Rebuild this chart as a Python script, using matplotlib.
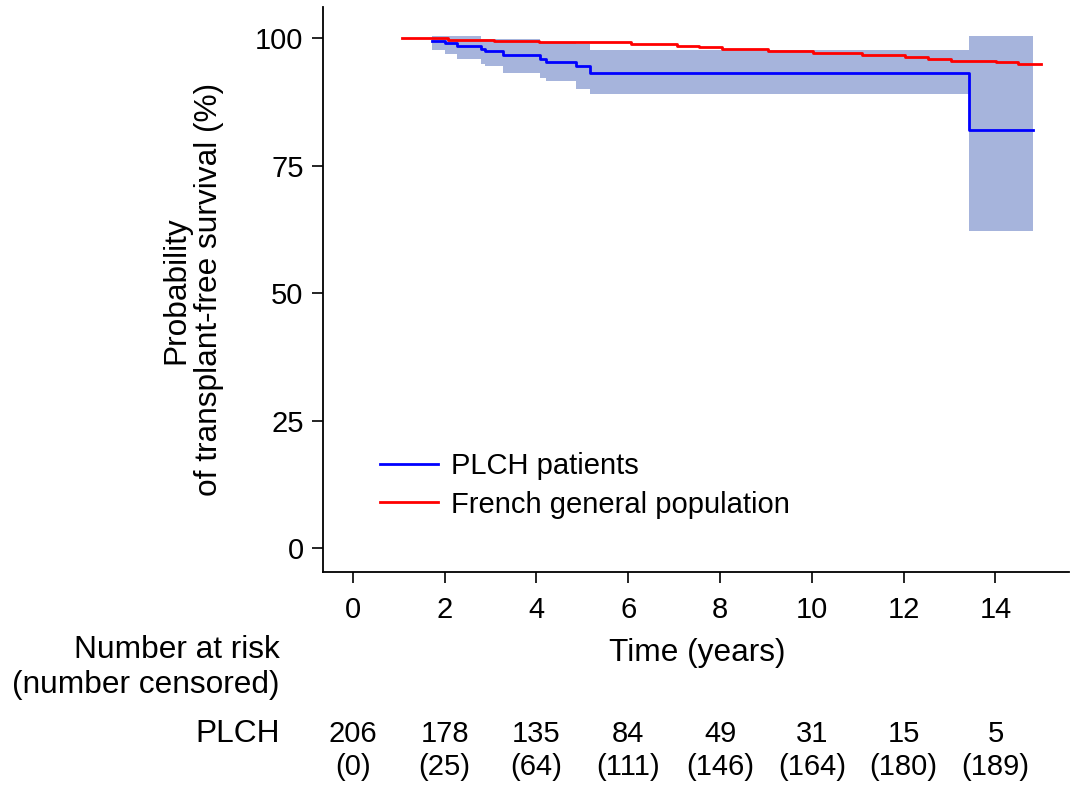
import matplotlib
matplotlib.use("Agg")
import matplotlib.pyplot as plt
import matplotlib.transforms as mtransforms
import numpy as np

plt.rcParams["font.family"] = ["Liberation Sans", "DejaVu Sans"]

# ---- data -------------------------------------------------------------------
# PLCH patients: Kaplan-Meier step times (years), estimate and 95% CI (%)
plch_t = [1.72, 2.00, 2.26, 2.80, 2.88, 3.27, 4.07, 4.20, 4.87, 5.17, 13.43, 14.81]
plch_s = [99.5, 99.0, 98.55, 97.9, 97.4, 96.7, 95.9, 95.4, 94.45, 93.25, 82.0, 82.0]
plch_lo = [97.7, 96.9, 95.95, 95.0, 94.45, 93.25, 92.15, 91.5, 90.0, 89.1, 62.2, 62.2]
plch_hi = [100.4, 100.4, 100.4, 99.8, 99.8, 99.8, 99.2, 99.2, 98.8, 97.6, 100.4, 100.4]

# French general population: expected survival steps
pop_t = [1.07, 2.08, 3.07, 4.06, 6.06, 7.06, 7.55, 8.04, 9.04, 10.03,
         11.09, 12.04, 12.53, 13.04, 14.01, 14.50, 15.00]
pop_s = [100.0, 99.65, 99.35, 99.15, 98.85, 98.5, 98.2, 97.85, 97.45, 97.05,
         96.6, 96.2, 95.9, 95.6, 95.3, 95.0, 95.0]

# number at risk table
risk_x = [0, 2, 4, 6, 8, 10, 12, 14]
at_risk = [206, 178, 135, 84, 49, 31, 15, 5]
censored = [0, 25, 64, 111, 146, 164, 180, 189]

FS = 21      # tick labels, legend, table numbers
FL = 22.8    # axis / table labels

fig = plt.figure(figsize=(10.71, 7.87), dpi=100)
ax = fig.add_axes([0.3016, 0.2726, 0.6964, 0.7185])

ax.fill_between(plch_t, plch_lo, plch_hi, step="post",
                color="#a6b4dc", lw=0, zorder=1)
ax.plot(plch_t, plch_s, drawstyle="steps-post", color="#0000ff", lw=2.0,
        label="PLCH patients", zorder=3)
ax.plot(pop_t, pop_s, drawstyle="steps-post", color="#ff0000", lw=2.0,
        label="French general population", zorder=2)

ax.set_xlim(-0.65, 15.6)
ax.set_ylim(-4.8, 106.1)
ax.set_xticks(risk_x)
ax.set_yticks([0, 25, 50, 75, 100])
for s in ("top", "right"):
    ax.spines[s].set_visible(False)
for s in ("left", "bottom"):
    ax.spines[s].set_linewidth(1.3)
ax.tick_params(axis="both", direction="out", length=8, width=1.2,
               labelsize=FS, pad=6)
ax.tick_params(axis="x", pad=9)

ax.text(-0.175, 0.50, "Probability\nof transplant-free survival (%)",
        transform=ax.transAxes, rotation=90, ha="center", va="center",
        fontsize=FL, linespacing=1.1, multialignment="center")

ax.legend(loc="center left", bbox_to_anchor=(0.0764, 0.1538), frameon=False,
          fontsize=FS, handlelength=2.0, handletextpad=0.45, labelspacing=0.35,
          borderpad=0, borderaxespad=0)

# ---- below-axis text ----------------------------------------------------------
tr = mtransforms.blended_transform_factory(ax.transData, fig.transFigure)
fig.text(697 / 1071, 1 - 653 / 787, "Time (years)", ha="center", va="center",
         fontsize=FL)
fig.text(280 / 1071, 1 - 650 / 787, "Number at risk", ha="right", va="center",
         fontsize=FL)
fig.text(280 / 1071, 1 - 685 / 787, "(number censored)", ha="right",
         va="center", fontsize=FL)
fig.text(280 / 1071, 1 - 734 / 787, "PLCH", ha="right", va="center",
         fontsize=FL)
for x, n, c in zip(risk_x, at_risk, censored):
    ax.text(x, 1 - 734 / 787, str(n), transform=tr, ha="center", va="center",
            fontsize=FS)
    ax.text(x, 1 - 767 / 787, f"({c})", transform=tr, ha="center",
            va="center", fontsize=FS)

fig.savefig("out.png", dpi=100)
